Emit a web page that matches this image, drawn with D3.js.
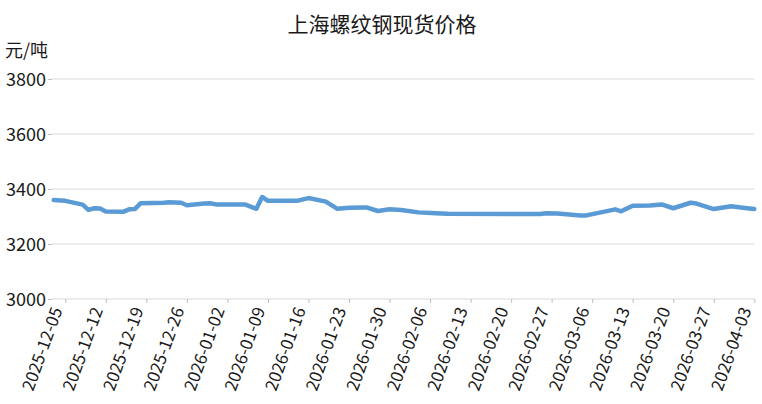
<!DOCTYPE html>
<html>
<head>
<meta charset="utf-8">
<script src="https://cdn.jsdelivr.net/npm/d3@7"></script>
<style>
  body { margin: 0; background: #fff; }
  svg { display: block; font-family: "Noto Sans CJK SC", "Noto Sans", sans-serif; }
</style>
</head>
<body>
<svg id="chart" width="762" height="404"></svg>
<script>
// price readings (yuan / ton)
let dates = [
    "2025-12-03", "2025-12-05", "2025-12-08", "2025-12-09", "2025-12-10", "2025-12-11",
    "2025-12-12", "2025-12-15", "2025-12-16", "2025-12-17", "2025-12-18", "2025-12-22",
    "2025-12-23", "2025-12-25", "2025-12-26", "2025-12-29", "2025-12-30", "2025-12-31",
    "2026-01-05", "2026-01-07", "2026-01-08", "2026-01-09", "2026-01-14", "2026-01-16",
    "2026-01-19", "2026-01-21", "2026-01-23", "2026-01-26", "2026-01-28", "2026-01-30",
    "2026-02-01", "2026-02-04", "2026-02-07", "2026-02-09", "2026-02-20", "2026-02-25",
    "2026-02-26", "2026-02-28", "2026-03-04", "2026-03-05", "2026-03-10", "2026-03-11",
    "2026-03-13", "2026-03-16", "2026-03-18", "2026-03-20", "2026-03-23", "2026-03-24",
    "2026-03-27", "2026-03-30", "2026-04-01", "2026-04-03"
];
let prices = [
    3360, 3357, 3343, 3324, 3330, 3329,
    3318, 3317, 3326, 3327, 3348, 3350,
    3352, 3350, 3341, 3347, 3348, 3344,
    3344, 3328, 3371, 3357, 3357, 3367,
    3354, 3328, 3332, 3333, 3320, 3326,
    3324, 3315, 3312, 3310, 3309, 3309,
    3312, 3311, 3304, 3304, 3326, 3319,
    3339, 3340, 3344, 3330, 3350, 3347,
    3327, 3337, 3332, 3327
];
let yTicks = [3000, 3200, 3400, 3600, 3800];
let xTickStart = "2025-12-05";
let xTickCount = 18;   // weekly labels
let title = "上海螺纹钢现货价格";
let unitLabel = "元/吨";

let svg = d3.select("#chart");
let parse = d3.timeParse("%Y-%m-%d");
let fmt = d3.timeFormat("%Y-%m-%d");

let data = dates.map(function(d, i) {
    return { date: parse(d), value: prices[i] };
});

let plotLeft = 52, plotRight = 754.3, plotTop = 79, plotBottom = 299;

let xScale = d3.scaleTime()
    .domain([parse(dates[0]), parse(dates[dates.length - 1])])
    .range([53.7, plotRight]);

let yScale = d3.scaleLinear()
    .domain([3000, 3800])
    .range([plotBottom, plotTop]);

let xTickValues = d3.range(xTickCount).map(function(k) {
    return d3.timeDay.offset(parse(xTickStart), k * 7);
});

// gridlines
svg.selectAll(".grid")
    .data(yTicks)
    .enter()
    .append("line")
    .attr("x1", plotLeft)
    .attr("x2", plotRight)
    .attr("y1", function(d) { return yScale(d); })
    .attr("y2", function(d) { return yScale(d); })
    .attr("stroke", "#d9d9d9")
    .attr("stroke-width", 1.2);

// y axis
let yAxis = svg.append("g")
    .attr("transform", "translate(" + plotLeft + ",0)")
    .call(d3.axisLeft(yScale).tickValues(yTicks).tickSize(4).tickPadding(2).tickFormat(d3.format("d")));
yAxis.select(".domain").remove();
yAxis.selectAll("line").attr("stroke", "#bfbfbf");
yAxis.selectAll("text")
    .style("font-family", "Noto Sans CJK SC")
    .style("font-size", "18px")
    .attr("dy", "0.36em")
    .style("fill", "#1a1a1a");

// x axis
let xAxis = svg.append("g")
    .attr("transform", "translate(0," + plotBottom + ")")
    .call(d3.axisBottom(xScale).tickValues(xTickValues).tickSize(4).tickFormat(fmt));
xAxis.select(".domain").remove();
xAxis.selectAll("line").attr("stroke", "#bfbfbf");
xAxis.selectAll("text")
    .style("font-family", "Noto Sans CJK SC")
    .style("font-size", "17px")
    .style("fill", "#1a1a1a")
    .style("text-anchor", "end")
    .attr("y", 0)
    .attr("dy", 0)
    .attr("transform", "translate(-3,11) rotate(-70)");

// price line
let line = d3.line()
    .x(function(d) { return xScale(d.date); })
    .y(function(d) { return yScale(d.value); });

svg.append("path")
    .datum(data)
    .attr("d", line)
    .attr("fill", "none")
    .attr("stroke", "#5b9bd5")
    .attr("stroke-width", 4.5)
    .style("stroke-linejoin", "round")
    .style("stroke-linecap", "round");

// title and unit
svg.append("text")
    .attr("x", 382)
    .attr("y", 32)
    .attr("text-anchor", "middle")
    .style("font-size", "21px")
    .style("fill", "#1a1a1a")
    .text(title);

svg.append("text")
    .attr("x", 5)
    .attr("y", 57)
    .style("font-size", "18px")
    .style("fill", "#1a1a1a")
    .text(unitLabel);
</script>
</body>
</html>
